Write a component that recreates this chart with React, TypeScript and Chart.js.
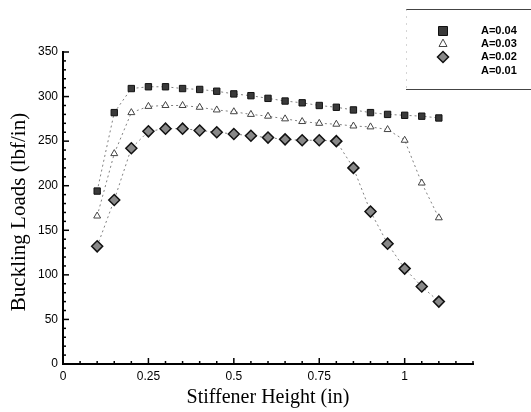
import React, { useEffect, useRef } from "react";
import { Chart, registerables } from "chart.js";

Chart.register(...registerables);

const heights = [0.1, 0.15, 0.2, 0.25, 0.3, 0.35, 0.4, 0.45, 0.5, 0.55, 0.6, 0.65, 0.7, 0.75, 0.8, 0.85, 0.9, 0.95, 1.0, 1.05, 1.1];
const loadsA004 = [194, 282, 309, 311, 311, 309, 308, 306, 303, 301, 298, 295, 293, 290, 288, 285, 282, 280, 279, 278, 276];
const loadsA003 = [166, 236, 282, 289, 290, 290, 288, 285, 283, 280, 278, 275, 272, 270, 269, 267, 266, 263, 251, 203, 164];
const loadsA002 = [132, 184, 242, 261, 264, 264, 262, 260, 258, 256, 254, 252, 251, 251, 250, 220, 171, 135, 107, 87, 70];
const loadsA001: number[] = [];
const seriesLabels = ["A=0.04", "A=0.03", "A=0.02", "A=0.01"];
const xTitle = "Stiffener Height (in)";
const yTitle = "Buckling Loads (lbf/in)";

const toPoints = (vals: number[]) => vals.map((v, i) => ({ x: heights[i], y: v }));

function drawMarker(ctx: CanvasRenderingContext2D, style: string, x: number, y: number, r: number, fill: string, stroke: string, lw: number) {
  ctx.save();
  ctx.beginPath();
  if (style === "rect") {
    ctx.rect(x - r, y - r, 2 * r, 2 * r);
  } else if (style === "triangle") {
    ctx.moveTo(x, y - r * 1.1);
    ctx.lineTo(x + r, y + r * 0.75);
    ctx.lineTo(x - r, y + r * 0.75);
    ctx.closePath();
  } else if (style === "rectRot") {
    ctx.moveTo(x, y - r);
    ctx.lineTo(x + r, y);
    ctx.lineTo(x, y + r);
    ctx.lineTo(x - r, y);
    ctx.closePath();
  } else {
    ctx.restore();
    return;
  }
  ctx.fillStyle = fill;
  ctx.fill();
  if (lw > 0) {
    ctx.strokeStyle = stroke;
    ctx.lineWidth = lw;
    ctx.stroke();
  }
  ctx.restore();
}

const decorPlugin = {
  id: "decor",
  afterDraw(chart: any) {
    const ctx: CanvasRenderingContext2D = chart.ctx;
    const xs = chart.scales.x;
    const ys = chart.scales.y;
    const { left, bottom } = chart.chartArea;
    ctx.save();
    ctx.strokeStyle = "#000";
    ctx.lineWidth = 1.5;
    for (let v = 0; v <= 350; v += 10) {
      const py = ys.getPixelForValue(v);
      const len = v % 50 === 0 ? 6 : 3;
      ctx.beginPath();
      ctx.moveTo(left, py);
      ctx.lineTo(left + len, py);
      ctx.stroke();
    }
    for (let k = 0; k <= 24; k++) {
      const v = k * 0.05;
      const px = xs.getPixelForValue(v);
      const len = k % 5 === 0 ? 6 : 3;
      ctx.beginPath();
      ctx.moveTo(px, bottom);
      ctx.lineTo(px, bottom - len);
      ctx.stroke();
    }
    ctx.fillStyle = "#000";
    ctx.font = '20px "Liberation Serif", "Times New Roman", serif';
    ctx.textAlign = "center";
    ctx.textBaseline = "middle";
    ctx.fillText(xTitle, (chart.chartArea.left + chart.chartArea.right) / 2, 398);
    ctx.save();
    ctx.translate(19, 212);
    ctx.rotate(-Math.PI / 2);
    ctx.font = '21px "Liberation Serif", "Times New Roman", serif';
    ctx.fillText(yTitle, 0, 0);
    ctx.restore();
    // legend box: solid top/bottom, faint dotted left
    ctx.strokeStyle = "#444";
    ctx.lineWidth = 1;
    ctx.beginPath();
    ctx.moveTo(406, 9.5);
    ctx.lineTo(531, 9.5);
    ctx.moveTo(406, 89.5);
    ctx.lineTo(531, 89.5);
    ctx.stroke();
    ctx.strokeStyle = "#aaa";
    ctx.setLineDash([1, 6]);
    ctx.beginPath();
    ctx.moveTo(406.5, 9.5);
    ctx.lineTo(406.5, 89.5);
    ctx.stroke();
    ctx.setLineDash([]);
    const rows = [31, 43.5, 57, 71];
    ctx.font = 'bold 11px "Liberation Sans", Arial, sans-serif';
    ctx.textAlign = "left";
    ctx.textBaseline = "middle";
    chart.data.datasets.forEach((ds: any, i: number) => {
      const y = rows[i];
      drawMarker(ctx, ds.pointStyle, 443, y, ds.pointRadius, ds.pointBackgroundColor, ds.pointBorderColor, ds.pointBorderWidth);
      ctx.fillStyle = "#000";
      ctx.fillText(ds.label, 481, y);
    });
    ctx.restore();
  },
};

export default function App() {
  const ref = useRef<HTMLCanvasElement>(null);
  useEffect(() => {
    document.body.style.margin = "0";
    const lineCommon = {
      showLine: true,
      borderColor: "#808080",
      borderWidth: 1,
      borderDash: [2, 3],
      fill: false,
    };
    const chart = new Chart(ref.current!, {
      type: "scatter",
      data: {
        datasets: [
          {
            ...lineCommon,
            label: seriesLabels[0],
            data: toPoints(loadsA004),
            pointStyle: "rect",
            pointRadius: 4.5,
            pointBackgroundColor: "#3a3a3a",
            pointBorderColor: "#111",
            pointBorderWidth: 1,
          },
          {
            ...lineCommon,
            label: seriesLabels[1],
            data: toPoints(loadsA003),
            pointStyle: "triangle",
            pointRadius: 4,
            pointBackgroundColor: "#fff",
            pointBorderColor: "#444",
            pointBorderWidth: 1,
          },
          {
            ...lineCommon,
            label: seriesLabels[2],
            data: toPoints(loadsA002),
            pointStyle: "rectRot",
            pointRadius: 5.5,
            pointBackgroundColor: "#888",
            pointBorderColor: "#111",
            pointBorderWidth: 1.5,
          },
          {
            ...lineCommon,
            label: seriesLabels[3],
            data: toPoints(loadsA001),
            pointStyle: false as any,
            pointRadius: 0,
            pointBackgroundColor: "transparent",
            pointBorderColor: "transparent",
            pointBorderWidth: 0,
          },
        ],
      },
      options: {
        animation: false,
        responsive: false,
        maintainAspectRatio: false,
        layout: { padding: { top: 52, right: 58, left: 0, bottom: 0 } },
        plugins: {
          legend: { display: false },
          tooltip: { enabled: false },
        },
        scales: {
          x: {
            type: "linear",
            min: 0,
            max: 1.2,
            grid: { display: false, drawTicks: false },
            border: { display: true, color: "#000", width: 2 },
            ticks: {
              stepSize: 0.25,
              includeBounds: false,
              padding: 5,
              color: "#000",
              font: { family: '"Liberation Sans", Arial, sans-serif', size: 12 },
              callback: (v: any) => String(Number(v)),
              maxRotation: 0,
            },
            afterFit: (s: any) => {
              s.height = 48;
            },
          },
          y: {
            type: "linear",
            min: 0,
            max: 350,
            grid: { display: false, drawTicks: false },
            border: { display: true, color: "#000", width: 2 },
            ticks: {
              stepSize: 50,
              padding: 5,
              color: "#000",
              font: { family: '"Liberation Sans", Arial, sans-serif', size: 12 },
              callback: (v: any) => String(Number(v)),
            },
            afterFit: (s: any) => {
              s.width = 63;
            },
          },
        },
      },
      plugins: [decorPlugin],
    });
    return () => chart.destroy();
  }, []);
  return (
    <div style={{ width: 531, height: 412 }}>
      <canvas ref={ref} width={531} height={412} style={{ display: "block" }} />
    </div>
  );
}
